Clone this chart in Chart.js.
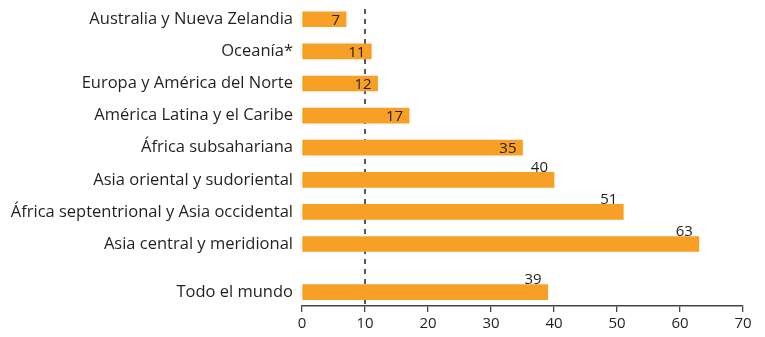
<!DOCTYPE html>
<html>
<head>
<meta charset="utf-8">
<script src="https://cdn.jsdelivr.net/npm/chart.js@4"></script>
<style>
  html, body { margin: 0; padding: 0; background: #fff; }
  #wrap { width: 765px; height: 337px; }
</style>
</head>
<body>
<div id="wrap"><canvas id="chart"></canvas></div>
<script>
var regions = [
    'Australia y Nueva Zelandia',
    'Oceanía*',
    'Europa y América del Norte',
    'América Latina y el Caribe',
    'África subsahariana',
    'Asia oriental y sudoriental',
    'África septentrional y Asia occidental',
    'Asia central y meridional',
    'Todo el mundo'
];
var values = [7, 11, 12, 17, 35, 40, 51, 63, 39];
var xTicks = [0, 10, 20, 30, 40, 50, 60, 70];
var refLine = 10;

var orange = '#f89f26';
var ink = '#231f20';
var fontName = '"Open Sans", Lato, sans-serif';

// the world total sits half a row further down than the regions
var rowPos = regions.map(function (r, i) {
    return i === regions.length - 1 ? i + 0.5 : i;
});
var yMin = -0.6, yMax = 8.93;
// labels that sit on top of the bar end instead of inside it
var raised = [5, 6, 7, 8];

var refLinePlugin = {
    id: 'refLine',
    beforeDatasetsDraw: function (chart) {
        var ctx = chart.ctx;
        var x = chart.scales.x.getPixelForValue(refLine);
        ctx.save();
        ctx.strokeStyle = '#111';
        ctx.lineWidth = 1.4;
        ctx.setLineDash([5, 5]);
        ctx.beginPath();
        ctx.moveTo(x, 9);
        ctx.lineTo(x, chart.chartArea.bottom);
        ctx.stroke();
        ctx.restore();
    }
};

var valueLabels = {
    id: 'valueLabels',
    afterDatasetsDraw: function (chart) {
        var ctx = chart.ctx;
        var meta = chart.getDatasetMeta(0);
        ctx.save();
        ctx.fillStyle = ink;
        ctx.font = '15px ' + fontName;
        ctx.textAlign = 'right';
        ctx.textBaseline = 'middle';
        meta.data.forEach(function (bar, i) {
            var y = raised.indexOf(i) >= 0 ? bar.y - 12 : bar.y + 1;
            ctx.fillText(String(values[i]), bar.x - 6, y);
        });
        ctx.restore();
    }
};

var data = values.map(function (v, i) {
    return { x: v, y: rowPos[i] };
});

new Chart(document.getElementById('chart'), {
    type: 'bar',
    data: {
        datasets: [{
            data: data,
            backgroundColor: orange,
            borderWidth: 0,
            barThickness: 15
        }]
    },
    options: {
        indexAxis: 'y',
        responsive: true,
        maintainAspectRatio: false,
        animation: false,
        layout: { padding: { left: 0, right: 22, top: 0, bottom: 0 } },
        plugins: {
            legend: { display: false },
            tooltip: { enabled: false }
        },
        scales: {
            x: {
                type: 'linear',
                min: 0,
                max: 70,
                afterBuildTicks: function (scale) {
                    scale.ticks = xTicks.map(function (v) { return { value: v }; });
                },
                afterFit: function (scale) { scale.height = 31; },
                grid: {
                    drawOnChartArea: false,
                    drawTicks: true,
                    tickLength: 6,
                    color: '#444',
                    lineWidth: 1.3
                },
                border: { display: true, color: '#444', width: 1.5 },
                ticks: {
                    color: ink,
                    padding: 3,
                    maxRotation: 0,
                    font: { family: fontName, size: 15 }
                }
            },
            y: {
                type: 'linear',
                reverse: true,
                offset: false,
                bounds: 'data',
                min: yMin,
                max: yMax,
                afterBuildTicks: function (scale) {
                    scale.ticks = rowPos.map(function (p) { return { value: p }; });
                    scale.min = yMin;
                    scale.max = yMax;
                },
                afterFit: function (scale) {
                    scale.width = 302;
                    scale.paddingTop = 0;
                    scale.paddingBottom = 0;
                },
                grid: { display: false, drawTicks: false, offset: false },
                border: { display: false },
                ticks: {
                    color: ink,
                    padding: 9,
                    autoSkip: false,
                    font: { family: fontName, size: 16.5 },
                    callback: function (value, index) { return regions[index]; }
                }
            }
        }
    },
    plugins: [refLinePlugin, valueLabels]
});
</script>
</body>
</html>
